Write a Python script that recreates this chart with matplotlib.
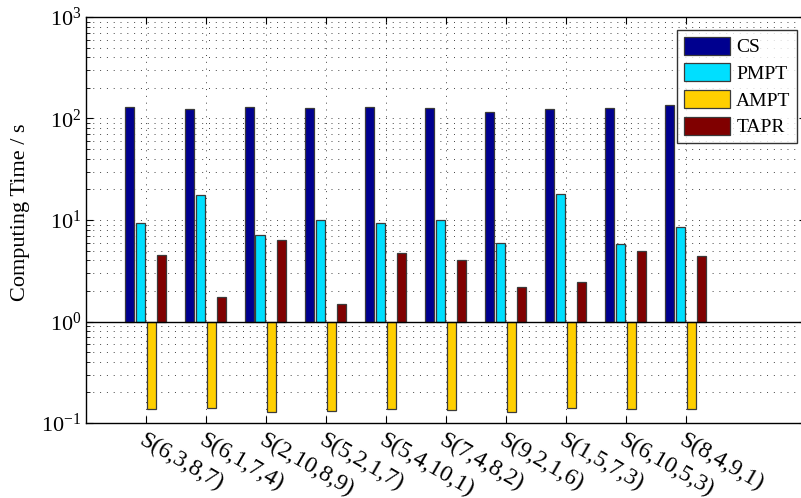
import numpy as np
import matplotlib
matplotlib.use("Agg")
import matplotlib.pyplot as plt
from matplotlib.ticker import LogLocator, NullFormatter

plt.rcParams['font.family'] = ['Liberation Serif', 'DejaVu Serif']
plt.rcParams['mathtext.fontset'] = 'stix'

categories = ["S(6,3,8,7)", "S(6,1,7,4)", "S(2,10,8,9)", "S(5,2,1,7)", "S(5,4,10,1)",
              "S(7,4,8,2)", "S(9,2,1,6)", "S(1,5,7,3)", "S(6,10,5,3)", "S(8,4,9,1)"]
series_names = ["CS", "PMPT", "AMPT", "TAPR"]
cs = [131, 123, 131, 128, 131, 126, 117, 124, 126, 137]
pmpt = [9.4, 17.7, 7.1, 10.0, 9.4, 10.0, 5.9, 18.1, 5.76, 8.6]
ampt = [0.138, 0.142, 0.128, 0.131, 0.138, 0.133, 0.128, 0.140, 0.137, 0.137]
tapr = [4.53, 1.76, 6.3, 1.49, 4.77, 4.04, 2.21, 2.47, 4.96, 4.43]
colors = ["#00008F", "#00DFFF", "#FFCF00", "#800000"]

W, H = 801, 498
fig = plt.figure(figsize=(W / 100, H / 100), dpi=100)
left, right, top, bottom = 86, 806, 17, 423
ax = fig.add_axes([left / W, 1 - bottom / H, (right - left) / W, (bottom - top) / H])

x = np.arange(1, len(categories) + 1)
offsets = [-0.275, -0.1, 0.09, 0.265]
width = 0.15
base = 1.0
for vals, name, col, off in zip([cs, pmpt, ampt, tapr], series_names, colors, offsets):
    v = np.array(vals)
    ax.bar(x + off, v - base, bottom=base, width=width, color=col,
           edgecolor="#3a3a3a", linewidth=0.9, label=name, zorder=3)

ax.set_yscale('log')
ax.set_ylim(0.1, 1000)
ax.set_xlim(0, 12)
ax.axhline(1.0, color='black', linewidth=1.0, zorder=4)

ax.set_xticks(x)
ax.set_xticklabels(categories, rotation=-30, ha='left', va='top',
                   rotation_mode='anchor', fontsize=17)
ax.yaxis.set_major_locator(LogLocator(base=10, numticks=10))
ax.yaxis.set_minor_locator(LogLocator(base=10, subs=np.arange(2, 10), numticks=20))
ax.yaxis.set_minor_formatter(NullFormatter())
ax.tick_params(axis='both', which='both', direction='in', top=True, right=True)
ax.tick_params(axis='both', which='major', length=5, width=0.8)
ax.tick_params(axis='y', which='minor', length=3, width=0.6)
ax.tick_params(axis='y', labelsize=16)
ax.tick_params(axis='x', pad=5)

grid_style = dict(linestyle=(0, (1, 6)), color='#444444', linewidth=0.7)
ax.grid(True, which='major', axis='both', **grid_style)
ax.grid(True, which='minor', axis='y', **grid_style)
ax.set_axisbelow(True)

for s in ax.spines.values():
    s.set_linewidth(1.0)

ax.set_ylabel("Computing Time / s", fontsize=16)
ax.yaxis.set_label_coords(-0.078, 0.52)

leg = ax.legend(loc='upper left', bbox_to_anchor=(677 / W, 1 - 30 / H),
                bbox_transform=fig.transFigure, fontsize=14, frameon=True,
                fancybox=False, shadow=False, handlelength=2.4, handleheight=1.05,
                labelspacing=0.36, handletextpad=0.3, borderpad=0.35,
                borderaxespad=0)
leg.get_frame().set_edgecolor('black')
leg.get_frame().set_linewidth(1.0)
leg.set_zorder(10)

fig.savefig("out.png", dpi=100)
